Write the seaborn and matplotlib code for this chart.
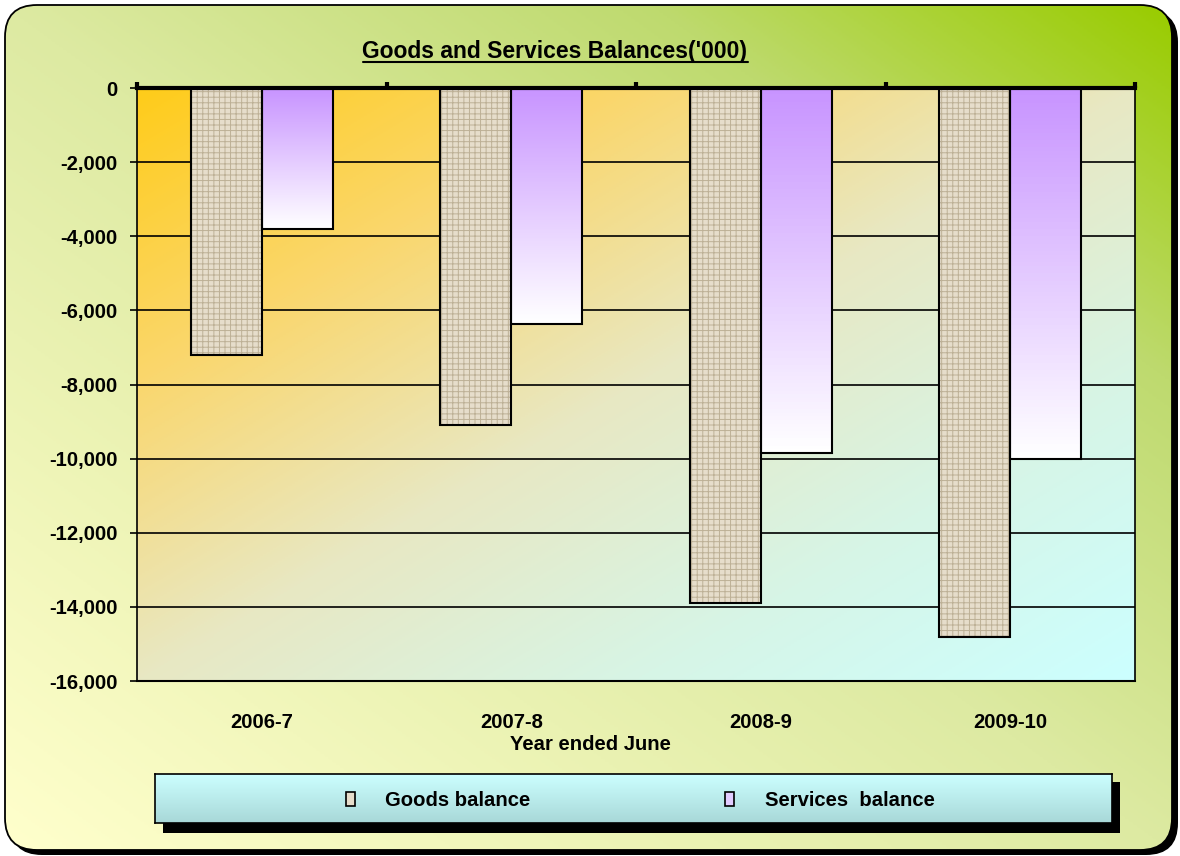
import numpy as np
import pandas as pd
import matplotlib.pyplot as plt
import seaborn as sns
from matplotlib.patches import FancyBboxPatch, Rectangle, Patch
from matplotlib.colors import LinearSegmentedColormap
from matplotlib.ticker import FuncFormatter, FixedLocator
from matplotlib.lines import Line2D

# Data
years = ['2006-7', '2007-8', '2008-9', '2009-10']
goods = [-7200, -9100, -13900, -14800]
services = [-3800, -6370, -9850, -10000]
series = ['Goods balance', 'Services  balance']

df = pd.DataFrame({
    'Year': years * 2,
    'Value': goods + services,
    'Series': [series[0]] * len(years) + [series[1]] * len(years),
})

sns.set_style('white', {'text.color': 'black', 'xtick.color': 'black',
                        'ytick.color': 'black', 'axes.labelcolor': 'black'})
plt.rcParams['font.family'] = ['Liberation Sans', 'DejaVu Sans']
plt.rcParams['font.weight'] = 'bold'
plt.rcParams['hatch.linewidth'] = 0.7

W, H = 1180, 856
fig = plt.figure(figsize=(11.8, 8.56), dpi=100)
fig.patch.set_facecolor('white')

# outer rounded panel (pixel coordinates)
bg = fig.add_axes([0, 0, 1, 1], zorder=-10)
bg.set_xlim(0, W)
bg.set_ylim(H, 0)
bg.axis('off')
bg.add_patch(FancyBboxPatch((10, 10), 1168, 845, boxstyle='round,pad=0,rounding_size=32',
                            fc='black', ec='none', zorder=0))
panel = FancyBboxPatch((5, 5), 1167, 845, boxstyle='round,pad=0,rounding_size=32',
                       fc='none', ec='black', lw=1.3, zorder=2)
bg.add_patch(panel)
cm_bg = LinearSegmentedColormap.from_list('bg', [(0, '#FFFFCC'), (0.5, '#DDEAA2'),
                                                 (0.78, '#BEDA6E'), (1, '#99CC00')])
xx, yy = np.meshgrid(np.linspace(0, 1, 300), np.linspace(0, 1, 300))
im = bg.imshow((xx + (1 - yy)) / 2, cmap=cm_bg, extent=[5, 1172, 850, 5], origin='upper',
               aspect='auto', zorder=1)
im.set_clip_path(panel)
bg.set_xlim(0, W)
bg.set_ylim(H, 0)

# legend box with shadow
bg.add_patch(Rectangle((163, 782), 957, 51, fc='black', ec='none', zorder=3))
lax = fig.add_axes([155 / W, 1 - 823 / H, (1112 - 155) / W, (823 - 774) / H], zorder=-5)
cm_leg = LinearSegmentedColormap.from_list('leg', ['#CCFFFF', '#A8D8D8'])
lax.imshow(np.linspace(0, 1, 100)[:, None], cmap=cm_leg, aspect='auto', extent=[0, 1, 0, 1])
lax.set_xticks([])
lax.set_yticks([])
for s in lax.spines.values():
    s.set_color('black')
    s.set_linewidth(1.2)

# main plot
ax = fig.add_axes([137 / W, 1 - 681 / H, (1135 - 137) / W, (681 - 88) / H])
sns.barplot(data=df, x='Year', y='Value', hue='Series', hue_order=series,
            palette={series[0]: '#E6DDCB', series[1]: '#C896FF'}, width=0.57,
            dodge=True, saturation=1, edgecolor='black', linewidth=1.5,
            legend=False, ax=ax)

for p in ax.containers[0]:
    p.set_edgecolor('#BDB096')
    p.set_linewidth(0.3)
    p.set_hatch('+++')
    ax.add_patch(Rectangle((p.get_x(), p.get_y()), p.get_width(), p.get_height(),
                           fill=False, ec='black', lw=1.5, zorder=3))

cm_svc = LinearSegmentedColormap.from_list('svc', ['#C894FF', '#FFFFFF'])
for p in ax.containers[1]:
    x0, w = p.get_x(), p.get_width()
    y_lo = min(p.get_y(), p.get_y() + p.get_height())
    y_hi = max(p.get_y(), p.get_y() + p.get_height())
    ax.imshow(np.linspace(0, 1, 100)[:, None], cmap=cm_svc, aspect='auto',
              extent=[x0, x0 + w, y_lo, y_hi], origin='upper', zorder=1.5)
    p.set_facecolor('none')
    p.set_zorder(3)

cm_plot = LinearSegmentedColormap.from_list('plot', [(0, '#FFCC1A'), (0.25, '#FAD76E'),
                                                     (0.5, '#E8E8C3'), (0.75, '#D7F5E6'),
                                                     (1, '#CCFFFF')])
xx, yy = np.meshgrid(np.linspace(0, 1, 300), np.linspace(0, 1, 300))
ax.imshow((xx + yy) / 2, cmap=cm_plot, extent=[-0.5, 3.5, -16000, 0], origin='upper',
          aspect='auto', zorder=0)

ax.set_xlim(-0.5, 3.5)
ax.set_ylim(-16000, 0)
ax.set_yticks(np.arange(-16000, 1, 2000))
ax.yaxis.set_major_formatter(FuncFormatter(lambda v, _: f'{v:,.0f}'))
ax.set_axisbelow(True)
ax.yaxis.grid(True, color='black', lw=1.2)
ax.xaxis.grid(False)
ax.set_xlabel('')
ax.set_ylabel('')

ax.xaxis.set_minor_locator(FixedLocator([-0.5, 0.5, 1.5, 2.5, 3.5]))
ax.tick_params(axis='x', which='major', length=0, pad=23, labelsize=14.6)
ax.tick_params(axis='x', which='minor', bottom=False, top=True, direction='out',
               length=4, width=3, color='black')
ax.tick_params(axis='y', which='major', left=True, direction='out', length=5,
               width=1.2, color='black', pad=9, labelsize=14.6)
for lab in ax.get_xticklabels() + ax.get_yticklabels():
    lab.set_fontweight('bold')

ax.spines['top'].set_linewidth(3)
ax.spines['left'].set_linewidth(1.2)
ax.spines['right'].set_linewidth(1.2)
ax.spines['bottom'].set_linewidth(1.5)
for s in ax.spines.values():
    s.set_color('black')
    s.set_zorder(4)

fig.text(590 / W, 1 - 745 / H, 'Year ended June', ha='center', va='center',
         fontsize=14.6, fontweight='bold', color='black')

title = fig.text(555 / W, 1 - 58 / H, "Goods and Services Balances('000)", ha='center',
                 va='baseline', fontsize=16.5, fontweight='bold', color='black')
fig.canvas.draw()
bb = title.get_window_extent()
fig.add_artist(Line2D([bb.x0 / W, bb.x1 / W], [1 - 62 / H, 1 - 62 / H],
                      transform=fig.transFigure, color='black', lw=1.5))

handles = [Patch(facecolor='#E6DDCB', edgecolor='black', lw=1.2),
           Patch(facecolor='#E2CCFF', edgecolor='black', lw=1.2)]
leg = lax.legend(handles, series, loc='center', bbox_to_anchor=(0.507, 0.46), ncol=2,
                 frameon=False, prop={'size': 14.6, 'weight': 'bold'}, handlelength=0.45,
                 handleheight=0.65, handletextpad=1.5, columnspacing=9.6)
for t in leg.get_texts():
    t.set_color('black')

fig.savefig('out.png', dpi=100)
